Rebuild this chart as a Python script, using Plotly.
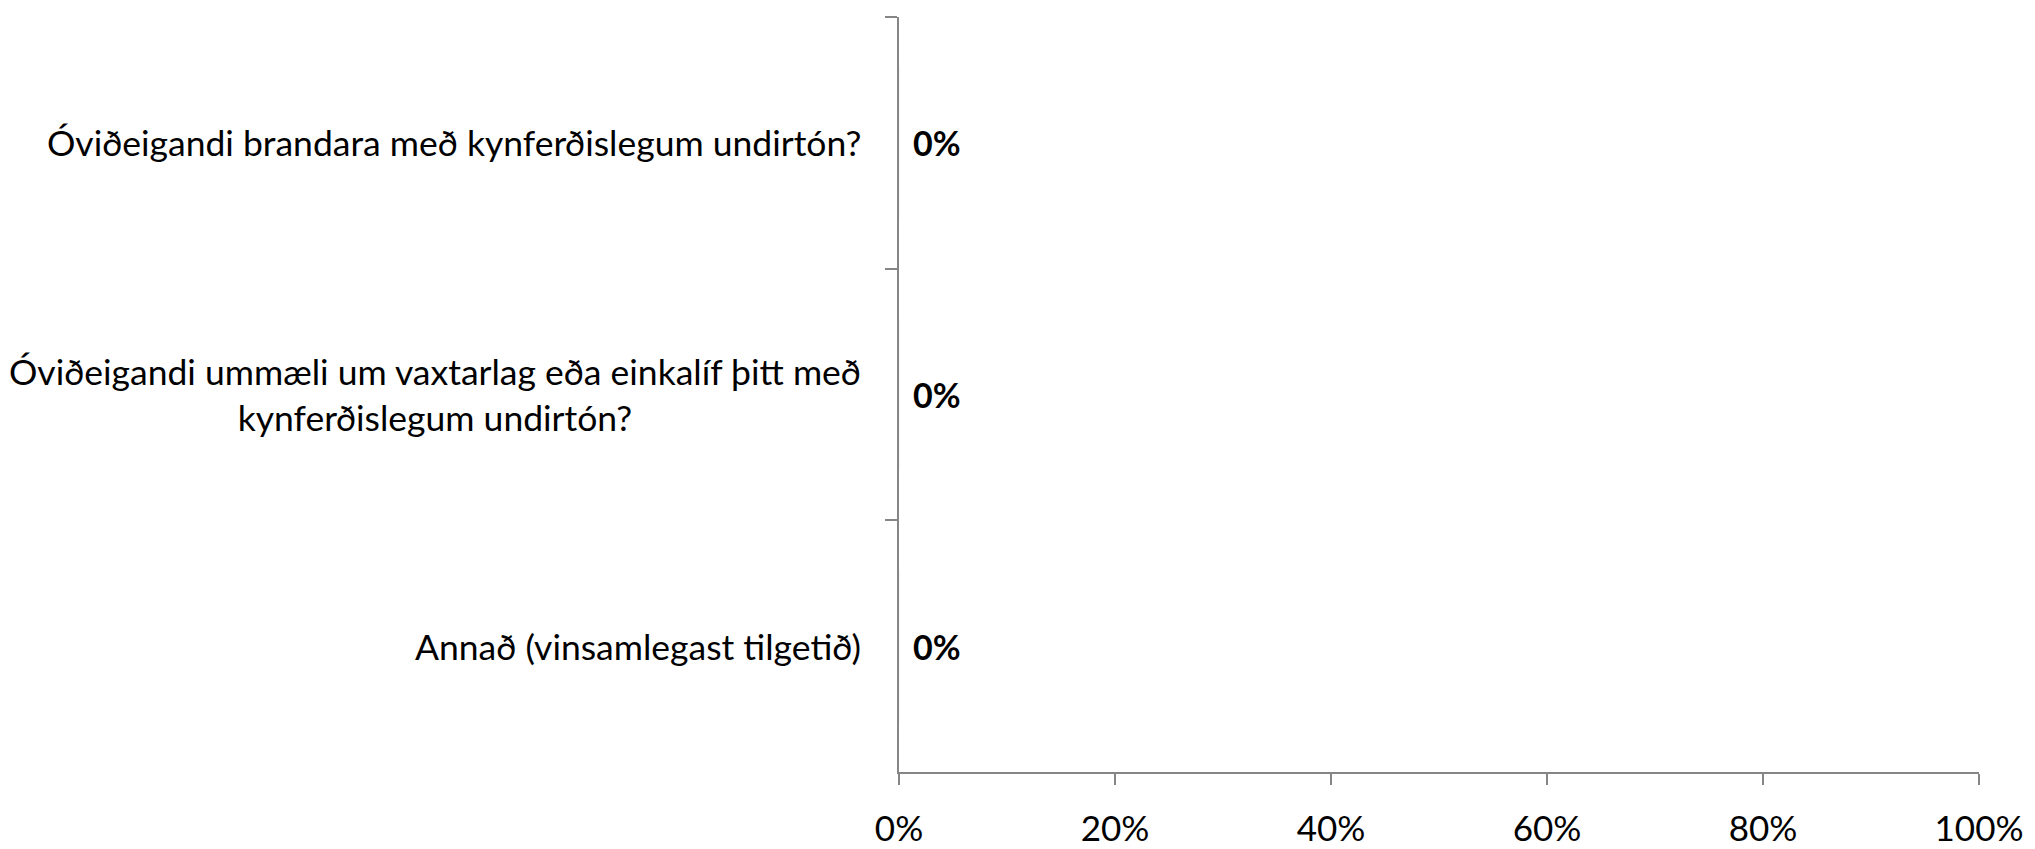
import plotly.graph_objects as go

categories = [
    "Óviðeigandi brandara með kynferðislegum undirtón?",
    "Óviðeigandi ummæli um vaxtarlag eða einkalíf þitt með<br>kynferðislegum undirtón?",
    "Annað (vinsamlegast tilgetið)",
]
values = [0.0, 0.0, 0.0]
x_tickvals = [0, 0.2, 0.4, 0.6, 0.8, 1.0]
x_ticktext = ["0%", "20%", "40%", "60%", "80%", "100%"]

FONT = "Lato"
AXIS_COLOR = "#868686"

fig = go.Figure()
fig.add_trace(go.Bar(
    x=values, y=categories, orientation="h",
    marker_color="#4F81BD", width=0.6, showlegend=False,
    hoverinfo="skip",
))

annotations = []
for cat, v in zip(categories, values):
    annotations.append(dict(
        x=0, xref="paper", y=cat, yref="y", text=cat,
        xanchor="right", yanchor="middle", align="center",
        xshift=-36, showarrow=False,
        font=dict(family=FONT, size=35.5, color="#000000"),
    ))
    annotations.append(dict(
        x=v, xref="x", y=cat, yref="y", text=f"<b>{v:.0%}</b>",
        xanchor="left", yanchor="middle", xshift=12, showarrow=False,
        font=dict(family=FONT, size=34, color="#000000"),
    ))

fig.update_layout(
    width=2035, height=849,
    margin=dict(l=891, r=64, t=9, b=65, pad=0),
    paper_bgcolor="white", plot_bgcolor="white",
    font=dict(family=FONT, size=35, color="#000000"),
    annotations=annotations,
    bargap=0.4,
)
fig.update_xaxes(
    range=[0, 1], tickvals=x_tickvals, ticktext=x_ticktext,
    showgrid=False, zeroline=False,
    showline=True, linecolor=AXIS_COLOR, linewidth=1.5,
    ticks="outside", ticklen=11, tickcolor=AXIS_COLOR, tickwidth=1.5,
    ticklabelstandoff=14,
    tickfont=dict(family=FONT, size=35, color="#000000"),
)
fig.update_yaxes(
    categoryorder="array", categoryarray=categories, autorange="reversed",
    showticklabels=False, showgrid=False, zeroline=False,
    showline=True, linecolor=AXIS_COLOR, linewidth=1.5,
    ticks="outside", ticklen=12, tickcolor=AXIS_COLOR, tickwidth=1.5,
    tickson="boundaries",
)

fig.write_html("out.html")
